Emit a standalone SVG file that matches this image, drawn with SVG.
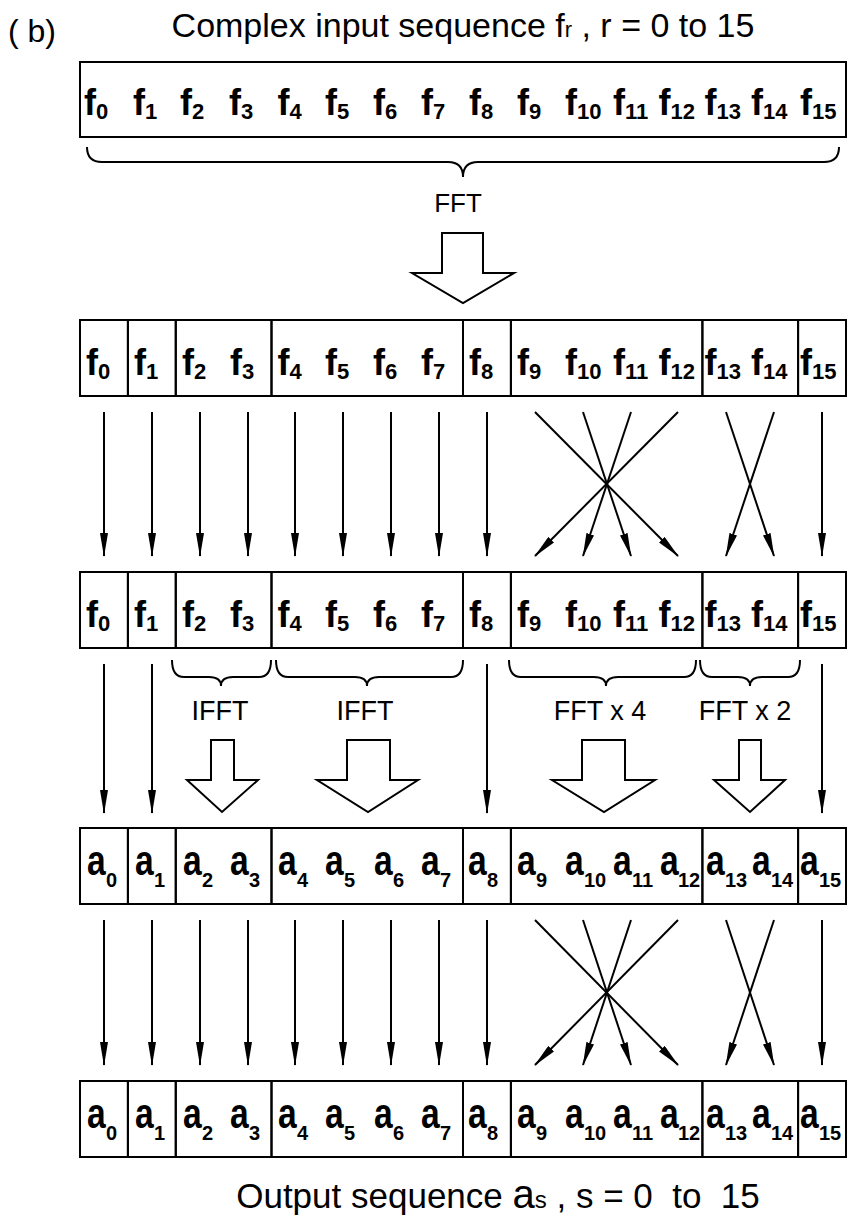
<svg xmlns="http://www.w3.org/2000/svg" width="849" height="1226" viewBox="0 0 849 1226">
<defs>
<style>
.box{fill:none;stroke:#000;stroke-width:2}
text{font-family:"Liberation Sans",Arial,sans-serif;fill:#000}
.lbl{font-size:36px;font-weight:bold}
.sub{font-size:22px}
.al{font-size:42px;font-weight:bold}
.asub{font-size:20px;font-weight:bold}
.arr{stroke:#000;stroke-width:2;fill:none;marker-end:url(#ah)}
.blk{fill:#fff;stroke:#000;stroke-width:2}
.brace{fill:none;stroke:#000;stroke-width:2}
.cap{font-size:27px;text-anchor:middle}
</style>
<marker id="ah" viewBox="0 0 24 8" markerWidth="24" markerHeight="8" refX="23" refY="4" orient="auto" markerUnits="userSpaceOnUse"><path d="M0,0 L24,4 L0,8 Z" fill="#000"/></marker>
</defs>
<rect width="849" height="1226" fill="#fff"/>
<text x="8" y="42" font-size="32">( b)</text>
<text x="463" y="37" font-size="34" text-anchor="middle">Complex input sequence f<tspan font-size="22">r</tspan> , r = 0 to 15</text>

<g id="input-box">
<rect class="box" x="80" y="62" width="766" height="75"/>
<text class="lbl" y="115" x="84">f<tspan class="sub" dy="4">0</tspan></text>
<text class="lbl" y="115" x="133">f<tspan class="sub" dy="4">1</tspan></text>
<text class="lbl" y="115" x="180">f<tspan class="sub" dy="4">2</tspan></text>
<text class="lbl" y="115" x="229">f<tspan class="sub" dy="4">3</tspan></text>
<text class="lbl" y="115" x="277.5">f<tspan class="sub" dy="4">4</tspan></text>
<text class="lbl" y="115" x="325">f<tspan class="sub" dy="4">5</tspan></text>
<text class="lbl" y="115" x="373">f<tspan class="sub" dy="4">6</tspan></text>
<text class="lbl" y="115" x="421">f<tspan class="sub" dy="4">7</tspan></text>
<text class="lbl" y="115" x="469">f<tspan class="sub" dy="4">8</tspan></text>
<text class="lbl" y="115" x="517">f<tspan class="sub" dy="4">9</tspan></text>
<text class="lbl" y="115" x="565">f<tspan class="sub" dy="4">10</tspan></text>
<text class="lbl" y="115" x="613">f<tspan class="sub" dy="4">11</tspan></text>
<text class="lbl" y="115" x="658.5">f<tspan class="sub" dy="4">12</tspan></text>
<text class="lbl" y="115" x="704.5">f<tspan class="sub" dy="4">13</tspan></text>
<text class="lbl" y="115" x="751">f<tspan class="sub" dy="4">14</tspan></text>
<text class="lbl" y="115" x="800">f<tspan class="sub" dy="4">15</tspan></text>
</g>

<g id="fft-brace"><path class="brace" d="M87,147 Q87,162 102,162 L448,162 Q463,162 463,177 Q463,162 478,162 L824,162 Q839,162 839,147"/></g>
<g id="fft-op">
<text x="458" y="212" font-size="26" text-anchor="middle">FFT</text>
<polygon class="blk" points="442,233 483,233 483,273 514,273 463,303 412,273 442,273"/>
</g>

<!-- Row 2 -->
<g id="r2-s0"><rect class="box" x="80" y="320" width="47.9" height="76"/><text class="lbl" x="86" y="375">f<tspan class="sub" dy="4">0</tspan></text></g>
<g id="r2-s1"><rect class="box" x="127.9" y="320" width="47.85" height="76"/><text class="lbl" x="134" y="375">f<tspan class="sub" dy="4">1</tspan></text></g>
<g id="r2-s2"><rect class="box" x="175.75" y="320" width="95.75" height="76"/><text class="lbl" x="182" y="375">f<tspan class="sub" dy="4">2</tspan></text><text class="lbl" x="230" y="375">f<tspan class="sub" dy="4">3</tspan></text></g>
<g id="r2-s3"><rect class="box" x="271.5" y="320" width="191.5" height="76"/><text class="lbl" x="277.5" y="375">f<tspan class="sub" dy="4">4</tspan></text><text class="lbl" x="325" y="375">f<tspan class="sub" dy="4">5</tspan></text><text class="lbl" x="373" y="375">f<tspan class="sub" dy="4">6</tspan></text><text class="lbl" x="421" y="375">f<tspan class="sub" dy="4">7</tspan></text></g>
<g id="r2-s4"><rect class="box" x="463" y="320" width="47.9" height="76"/><text class="lbl" x="469" y="375">f<tspan class="sub" dy="4">8</tspan></text></g>
<g id="r2-s5"><rect class="box" x="510.9" y="320" width="191.5" height="76"/><text class="lbl" x="517" y="375">f<tspan class="sub" dy="4">9</tspan></text><text class="lbl" x="565" y="375">f<tspan class="sub" dy="4">10</tspan></text><text class="lbl" x="613" y="375">f<tspan class="sub" dy="4">11</tspan></text><text class="lbl" x="658.5" y="375">f<tspan class="sub" dy="4">12</tspan></text></g>
<g id="r2-s6"><rect class="box" x="702.4" y="320" width="95.7" height="76"/><text class="lbl" x="704.5" y="375">f<tspan class="sub" dy="4">13</tspan></text><text class="lbl" x="751" y="375">f<tspan class="sub" dy="4">14</tspan></text></g>
<g id="r2-s7"><rect class="box" x="798.1" y="320" width="47.9" height="76"/><text class="lbl" x="800" y="375">f<tspan class="sub" dy="4">15</tspan></text></g>

<!-- Row 3 -->
<g id="r3-s0"><rect class="box" x="80" y="572" width="47.9" height="76"/><text class="lbl" x="86" y="627">f<tspan class="sub" dy="4">0</tspan></text></g>
<g id="r3-s1"><rect class="box" x="127.9" y="572" width="47.85" height="76"/><text class="lbl" x="134" y="627">f<tspan class="sub" dy="4">1</tspan></text></g>
<g id="r3-s2"><rect class="box" x="175.75" y="572" width="95.75" height="76"/><text class="lbl" x="182" y="627">f<tspan class="sub" dy="4">2</tspan></text><text class="lbl" x="230" y="627">f<tspan class="sub" dy="4">3</tspan></text></g>
<g id="r3-s3"><rect class="box" x="271.5" y="572" width="191.5" height="76"/><text class="lbl" x="277.5" y="627">f<tspan class="sub" dy="4">4</tspan></text><text class="lbl" x="325" y="627">f<tspan class="sub" dy="4">5</tspan></text><text class="lbl" x="373" y="627">f<tspan class="sub" dy="4">6</tspan></text><text class="lbl" x="421" y="627">f<tspan class="sub" dy="4">7</tspan></text></g>
<g id="r3-s4"><rect class="box" x="463" y="572" width="47.9" height="76"/><text class="lbl" x="469" y="627">f<tspan class="sub" dy="4">8</tspan></text></g>
<g id="r3-s5"><rect class="box" x="510.9" y="572" width="191.5" height="76"/><text class="lbl" x="517" y="627">f<tspan class="sub" dy="4">9</tspan></text><text class="lbl" x="565" y="627">f<tspan class="sub" dy="4">10</tspan></text><text class="lbl" x="613" y="627">f<tspan class="sub" dy="4">11</tspan></text><text class="lbl" x="658.5" y="627">f<tspan class="sub" dy="4">12</tspan></text></g>
<g id="r3-s6"><rect class="box" x="702.4" y="572" width="95.7" height="76"/><text class="lbl" x="704.5" y="627">f<tspan class="sub" dy="4">13</tspan></text><text class="lbl" x="751" y="627">f<tspan class="sub" dy="4">14</tspan></text></g>
<g id="r3-s7"><rect class="box" x="798.1" y="572" width="47.9" height="76"/><text class="lbl" x="800" y="627">f<tspan class="sub" dy="4">15</tspan></text></g>

<!-- Braces and operations -->
<g id="op-ifft1"><path class="brace" d="M172,660 Q172,677 184,677 L209,677 Q221,677 221,686 Q221,677 233,677 L259,677 Q271,677 271,660"/><text class="cap" x="220" y="720">IFFT</text><polygon class="blk" points="211,740 234,740 234,780 258,780 222,812 187,780 211,780"/></g>
<g id="op-ifft2"><path class="brace" d="M276,660 Q276,677 288,677 L355,677 Q367,677 367,686 Q367,677 379,677 L451,677 Q463,677 463,660"/><text class="cap" x="365" y="720">IFFT</text><polygon class="blk" points="347,740 390,740 390,780 418,780 368,812 317,780 347,780"/></g>
<g id="op-fft4"><path class="brace" d="M509,660 Q509,677 521,677 L594,677 Q606,677 606,686 Q606,677 618,677 L684,677 Q696,677 696,660"/><text class="cap" x="600" y="720">FFT x 4</text><polygon class="blk" points="582,740 625,740 625,780 655,780 604,812 552,780 582,780"/></g>
<g id="op-fft2"><path class="brace" d="M700,660 Q700,677 712,677 L738,677 Q750,677 750,686 Q750,677 762,677 L788,677 Q800,677 800,660"/><text class="cap" x="745" y="720">FFT x 2</text><polygon class="blk" points="739,740 761,740 761,780 785,780 750,812 714,780 739,780"/></g>

<!-- Row 4 -->
<g id="r4-s0"><rect class="box" x="80" y="828" width="47.9" height="76"/><text class="al" transform="translate(87,875) scale(0.8,1)">a</text><text class="asub" x="106" y="887">0</text></g>
<g id="r4-s1"><rect class="box" x="127.9" y="828" width="47.85" height="76"/><text class="al" transform="translate(135,875) scale(0.8,1)">a</text><text class="asub" x="154" y="887">1</text></g>
<g id="r4-s2"><rect class="box" x="175.75" y="828" width="95.75" height="76"/><text class="al" transform="translate(183,875) scale(0.8,1)">a</text><text class="asub" x="202" y="887">2</text><text class="al" transform="translate(230,875) scale(0.8,1)">a</text><text class="asub" x="249" y="887">3</text></g>
<g id="r4-s3"><rect class="box" x="271.5" y="828" width="191.5" height="76"/><text class="al" transform="translate(278,875) scale(0.8,1)">a</text><text class="asub" x="297" y="887">4</text><text class="al" transform="translate(325,875) scale(0.8,1)">a</text><text class="asub" x="344" y="887">5</text><text class="al" transform="translate(374,875) scale(0.8,1)">a</text><text class="asub" x="393" y="887">6</text><text class="al" transform="translate(421,875) scale(0.8,1)">a</text><text class="asub" x="440" y="887">7</text></g>
<g id="r4-s4"><rect class="box" x="463" y="828" width="47.9" height="76"/><text class="al" transform="translate(468,875) scale(0.8,1)">a</text><text class="asub" x="487" y="887">8</text></g>
<g id="r4-s5"><rect class="box" x="510.9" y="828" width="191.5" height="76"/><text class="al" transform="translate(517,875) scale(0.8,1)">a</text><text class="asub" x="536" y="887">9</text><text class="al" transform="translate(565,875) scale(0.8,1)">a</text><text class="asub" x="584" y="887">10</text><text class="al" transform="translate(613,875) scale(0.8,1)">a</text><text class="asub" x="632" y="887">11</text><text class="al" transform="translate(660,875) scale(0.8,1)">a</text><text class="asub" x="678" y="887">12</text></g>
<g id="r4-s6"><rect class="box" x="702.4" y="828" width="95.7" height="76"/><text class="al" transform="translate(706,875) scale(0.8,1)">a</text><text class="asub" x="725" y="887">13</text><text class="al" transform="translate(752,875) scale(0.8,1)">a</text><text class="asub" x="771" y="887">14</text></g>
<g id="r4-s7"><rect class="box" x="798.1" y="828" width="47.9" height="76"/><text class="al" transform="translate(800,875) scale(0.8,1)">a</text><text class="asub" x="819" y="887">15</text></g>

<!-- Row 5 -->
<g id="r5-s0"><rect class="box" x="80" y="1081" width="47.9" height="76"/><text class="al" transform="translate(87,1128) scale(0.8,1)">a</text><text class="asub" x="106" y="1140">0</text></g>
<g id="r5-s1"><rect class="box" x="127.9" y="1081" width="47.85" height="76"/><text class="al" transform="translate(135,1128) scale(0.8,1)">a</text><text class="asub" x="154" y="1140">1</text></g>
<g id="r5-s2"><rect class="box" x="175.75" y="1081" width="95.75" height="76"/><text class="al" transform="translate(183,1128) scale(0.8,1)">a</text><text class="asub" x="202" y="1140">2</text><text class="al" transform="translate(230,1128) scale(0.8,1)">a</text><text class="asub" x="249" y="1140">3</text></g>
<g id="r5-s3"><rect class="box" x="271.5" y="1081" width="191.5" height="76"/><text class="al" transform="translate(278,1128) scale(0.8,1)">a</text><text class="asub" x="297" y="1140">4</text><text class="al" transform="translate(325,1128) scale(0.8,1)">a</text><text class="asub" x="344" y="1140">5</text><text class="al" transform="translate(374,1128) scale(0.8,1)">a</text><text class="asub" x="393" y="1140">6</text><text class="al" transform="translate(421,1128) scale(0.8,1)">a</text><text class="asub" x="440" y="1140">7</text></g>
<g id="r5-s4"><rect class="box" x="463" y="1081" width="47.9" height="76"/><text class="al" transform="translate(468,1128) scale(0.8,1)">a</text><text class="asub" x="487" y="1140">8</text></g>
<g id="r5-s5"><rect class="box" x="510.9" y="1081" width="191.5" height="76"/><text class="al" transform="translate(517,1128) scale(0.8,1)">a</text><text class="asub" x="536" y="1140">9</text><text class="al" transform="translate(565,1128) scale(0.8,1)">a</text><text class="asub" x="584" y="1140">10</text><text class="al" transform="translate(613,1128) scale(0.8,1)">a</text><text class="asub" x="632" y="1140">11</text><text class="al" transform="translate(660,1128) scale(0.8,1)">a</text><text class="asub" x="678" y="1140">12</text></g>
<g id="r5-s6"><rect class="box" x="702.4" y="1081" width="95.7" height="76"/><text class="al" transform="translate(706,1128) scale(0.8,1)">a</text><text class="asub" x="725" y="1140">13</text><text class="al" transform="translate(752,1128) scale(0.8,1)">a</text><text class="asub" x="771" y="1140">14</text></g>
<g id="r5-s7"><rect class="box" x="798.1" y="1081" width="47.9" height="76"/><text class="al" transform="translate(800,1128) scale(0.8,1)">a</text><text class="asub" x="819" y="1140">15</text></g>

<text x="498" y="1208" font-size="35" text-anchor="middle" style="white-space:pre">Output sequence <tspan font-size="40">a</tspan><tspan font-size="24">s</tspan> , s = 0  to  15</text>

<g id="connectors">
<line class="arr" x1="104" y1="412" x2="104" y2="556"/>
<line class="arr" x1="152" y1="412" x2="152" y2="556"/>
<line class="arr" x1="200" y1="412" x2="200" y2="556"/>
<line class="arr" x1="248" y1="412" x2="248" y2="556"/>
<line class="arr" x1="295" y1="412" x2="295" y2="556"/>
<line class="arr" x1="343" y1="412" x2="343" y2="556"/>
<line class="arr" x1="391" y1="412" x2="391" y2="556"/>
<line class="arr" x1="439" y1="412" x2="439" y2="556"/>
<line class="arr" x1="487" y1="412" x2="487" y2="556"/>
<line class="arr" x1="535" y1="412" x2="678" y2="556"/>
<line class="arr" x1="583" y1="412" x2="631" y2="556"/>
<line class="arr" x1="631" y1="412" x2="583" y2="556"/>
<line class="arr" x1="678" y1="412" x2="535" y2="556"/>
<line class="arr" x1="726" y1="412" x2="774" y2="556"/>
<line class="arr" x1="774" y1="412" x2="726" y2="556"/>
<line class="arr" x1="822" y1="412" x2="822" y2="556"/>

<line class="arr" x1="104" y1="664" x2="104" y2="813"/>
<line class="arr" x1="152" y1="664" x2="152" y2="813"/>
<line class="arr" x1="487" y1="664" x2="487" y2="813"/>
<line class="arr" x1="822" y1="664" x2="822" y2="813"/>

<line class="arr" x1="104" y1="920" x2="104" y2="1065"/>
<line class="arr" x1="152" y1="920" x2="152" y2="1065"/>
<line class="arr" x1="200" y1="920" x2="200" y2="1065"/>
<line class="arr" x1="248" y1="920" x2="248" y2="1065"/>
<line class="arr" x1="295" y1="920" x2="295" y2="1065"/>
<line class="arr" x1="343" y1="920" x2="343" y2="1065"/>
<line class="arr" x1="391" y1="920" x2="391" y2="1065"/>
<line class="arr" x1="439" y1="920" x2="439" y2="1065"/>
<line class="arr" x1="487" y1="920" x2="487" y2="1065"/>
<line class="arr" x1="535" y1="920" x2="678" y2="1065"/>
<line class="arr" x1="583" y1="920" x2="631" y2="1065"/>
<line class="arr" x1="631" y1="920" x2="583" y2="1065"/>
<line class="arr" x1="678" y1="920" x2="535" y2="1065"/>
<line class="arr" x1="726" y1="920" x2="774" y2="1065"/>
<line class="arr" x1="774" y1="920" x2="726" y2="1065"/>
<line class="arr" x1="822" y1="920" x2="822" y2="1065"/>
</g>
</svg>
